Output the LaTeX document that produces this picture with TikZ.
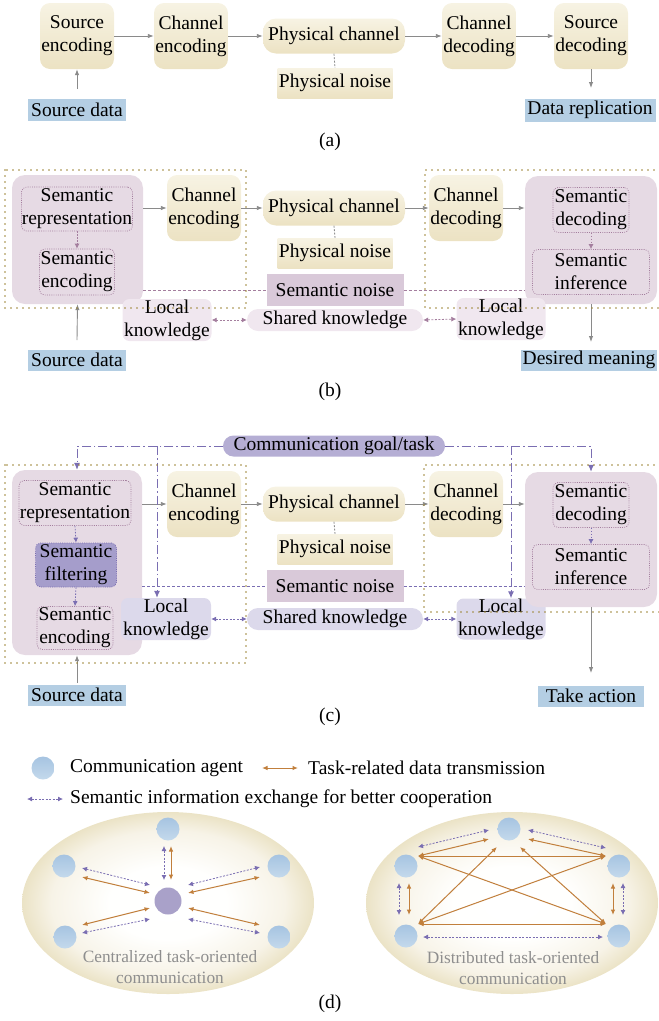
\documentclass[tikz,border=0pt]{standalone}
\usepackage{fontspec}
\setmainfont{Liberation Serif}
\usetikzlibrary{arrows.meta,calc,shapes.geometric}
\definecolor{creamT}{HTML}{F7F3E3}
\definecolor{creamB}{HTML}{ECE2C3}
\definecolor{lblue}{HTML}{B4CEE3}
\definecolor{semb}{HTML}{E6DAE4}
\definecolor{semnoise}{HTML}{D9C9D9}
\definecolor{knb}{HTML}{F0E7EF}
\definecolor{knc}{HTML}{DCD9EB}
\definecolor{goalc}{HTML}{B5AED4}
\definecolor{filt}{HTML}{A59DCB}
\definecolor{arrgray}{HTML}{8A8A8A}
\definecolor{mauve}{HTML}{A47E9E}
\definecolor{vio}{HTML}{7A6EB2}
\definecolor{olive}{HTML}{9C8434}
\definecolor{orng}{HTML}{C17F3C}
\definecolor{agentT}{HTML}{A6C4E1}
\definecolor{agentB}{HTML}{C4D9EC}
\definecolor{centerp}{HTML}{A9A1C9}
\definecolor{ellout}{HTML}{EBE3C6}
\definecolor{ellmidA}{HTML}{FFFFFE}
\definecolor{ellmidB}{HTML}{F7F3E7}
\definecolor{labgray}{HTML}{8E8E8E}
\pgfdeclareradialshading{ellshade}{\pgfpoint{0bp}{0bp}}{color(0bp)=(white); color(10bp)=(ellmidA); color(20bp)=(ellmidB); color(25bp)=(ellout); color(50bp)=(ellout)}
\tikzset{
  base/.style={font=\fontsize{19.5}{23}\selectfont, align=center, inner sep=0pt, text=black},
  sz/.style 2 args={minimum width=#1, minimum height=#2},
  cbox/.style={base, rounded corners=10pt, top color=creamT, bottom color=creamB, sz={74pt}{66pt}},
  pill/.style={base, rounded corners=13pt, top color=creamT, bottom color=creamB, sz={142pt}{35pt}},
  rbox/.style={base, top color=creamT, bottom color=creamB, sz={115pt}{30pt}},
  lbl/.style={base, fill=lblue},
  bigbox/.style={rounded corners=13pt, fill=semb, inner sep=0pt},
  inbox/.style={base, draw=mauve, dash pattern=on 0.9pt off 1.3pt, line width=0.7pt, rounded corners=5pt},
  snoise/.style={base, fill=semnoise, sz={137pt}{32pt}},
  knowb/.style={base, fill=knb, rounded corners=7pt},
  knowc/.style={base, fill=knc, rounded corners=7pt},
  frame/.style={draw=olive, line width=1.8pt, dash pattern=on 0pt off 6pt, line cap=round},
  garr/.style={draw=arrgray, line width=0.9pt, -{Latex[length=6pt,width=4.5pt]}},
  gdash/.style={draw=arrgray, line width=0.8pt, dash pattern=on 2pt off 1.5pt},
  marr/.style={draw=mauve, line width=0.8pt, dash pattern=on 1.5pt off 1.5pt, -{Latex[length=5pt,width=5pt]}},
  mdarr/.style={draw=mauve, line width=0.8pt, dash pattern=on 2pt off 1.5pt, {Latex[length=5pt,width=5pt]}-{Latex[length=5pt,width=5pt]}},
  varr/.style={draw=vio, line width=0.8pt, dash pattern=on 1.5pt off 1.5pt, -{Latex[length=5pt,width=5pt]}},
  vdarr/.style={draw=vio, line width=0.8pt, dash pattern=on 2pt off 1.5pt, {Latex[length=5pt,width=5pt]}-{Latex[length=5pt,width=5pt]}},
  mnoise/.style={draw=mauve, line width=0.8pt, dash pattern=on 3pt off 2pt},
  vnoise/.style={draw=vio, line width=0.8pt, dash pattern=on 3pt off 2pt},
  ddot/.style={draw=vio, line width=1pt, dash pattern=on 9pt off 3pt on 1.5pt off 3pt},
  ddarr/.style={ddot, -{Latex[length=7pt,width=6pt]}},
  oarr/.style={draw=orng, line width=1pt, {Latex[length=5.5pt,width=4.5pt]}-{Latex[length=5.5pt,width=4.5pt]}},
  agent/.style={circle, inner sep=0pt, minimum size=23pt, top color=agentT, bottom color=agentB},
  hub/.style={circle, inner sep=0pt, minimum size=27pt, fill=centerp},
  ell/.style={ellipse, inner sep=0pt, sz={292pt}{182pt}, shading=ellshade},
  glabel/.style={font=\fontsize{17.3}{21}\selectfont, align=center, text=labgray, inner sep=0pt},
  leg/.style={font=\fontsize{19.5}{23}\selectfont, inner sep=0pt, anchor=west},
  capt/.style={font=\fontsize{19.5}{23}\selectfont, inner sep=0pt}
}
\begin{document}
\begin{tikzpicture}[x=1pt,y=-1pt]
\useasboundingbox (0,0) rectangle (659,1021);

% ---------------- (a) ----------------
\node[cbox] (se) at (77,36) {Source\\encoding};
\node[cbox] (ce) at (191,36) {Channel\\encoding};
\node[pill] (pc) at (334,36) {Physical channel};
\node[rbox] (pn) at (335,83) {Physical noise};
\node[cbox] (cd) at (479,36) {Channel\\decoding};
\node[cbox] (sd) at (591,36) {Source\\decoding};
\node[lbl, sz={98pt}{22pt}] (srcA) at (77,110) {Source data};
\node[lbl, sz={131pt}{23pt}] (drA) at (590,110) {Data replication};
\coordinate (srcAtip) at (77,89);
\coordinate (drAtop) at (591,88);
\draw[garr] (srcAtip) -- (se.south);
\draw[garr] (se.east) -- (ce.west);
\draw[garr] (ce.east) -- (pc.west);
\draw[garr] (pc.east) -- (cd.west);
\draw[garr] (cd.east) -- (sd.west);
\draw[garr] (sd.south) -- (drAtop);
\draw[gdash] (pc.south) -- (pn.north);
\node[capt] (capa) at (330,142) {(a)};

% ---------------- (b) ----------------
\node[bigbox, sz={131pt}{129pt}] (txb) at (77.5,239.5) {};
\node[inbox, sz={111pt}{44pt}] (srb) at (77,209) {Semantic\\representation};
\node[inbox, sz={75pt}{46pt}] (seb) at (77,272) {Semantic\\encoding};
\draw[marr] (srb.south) -- (seb.north);
\node[cbox] (ceb) at (204,208) {Channel\\encoding};
\node[pill] (pcb) at (334,208) {Physical channel};
\node[rbox] (pnb) at (335,253) {Physical noise};
\node[snoise] (snb) at (335,290) {Semantic noise};
\node[knowb, rounded corners=11pt, sz={176pt}{22pt}] (shb) at (335,320) {Shared knowledge};
\node[cbox] (cdb) at (466,208) {Channel\\decoding};
\node[bigbox, sz={132pt}{128pt}] (rxb) at (591,240) {};
\node[inbox, sz={76pt}{45pt}] (sdb) at (591,210) {Semantic\\decoding};
\node[inbox, sz={117pt}{45pt}] (sib) at (591,272) {Semantic\\inference};
\draw[marr] (sdb.south) -- (sib.north);
\node[knowb, sz={89pt}{42pt}] (lkb1) at (167,320) {Local\\knowledge};
\node[knowb, sz={89pt}{42pt}] (lkb2) at (501,319) {Local\\knowledge};
\node[lbl, sz={98pt}{21pt}] (srcB) at (77,360) {Source data};
\node[lbl, sz={136pt}{21pt}] (dmB) at (589,360) {Desired meaning};
\coordinate (srcBtip) at (77,340);
\coordinate (dmBtop) at (591,342);
\draw[garr] (srcBtip) -- (txb.south);
\draw[garr] (rxb.south) -- (dmBtop);
\draw[garr] (ceb.west -| txb.east) -- (ceb.west);
\draw[garr] (ceb.east) -- (pcb.west);
\draw[garr] (pcb.east) -- (cdb.west);
\draw[garr] (cdb.east) -- (cdb.east -| rxb.west);
\draw[gdash] (pcb.south) -- (pnb.north);
\draw[mnoise] (snb.west -| txb.east) -- (snb.west);
\draw[mnoise] (snb.east) -- (snb.east -| rxb.west);
\draw[mdarr] (lkb1.east) -- (shb.west);
\draw[mdarr] (shb.east) -- (lkb2.west);
\draw[frame] (5,170) rectangle (246,308);
\draw[frame] (660,170) -- (425,170) -- (425,308) -- (660,308);
\node[capt] (capb) at (330,392) {(b)};

% ---------------- (c) ----------------
\node[base, fill=goalc, rounded corners=10.5pt, sz={222pt}{21pt}] (goal) at (334,446) {Communication goal/task};
\node[bigbox, sz={130pt}{185pt}] (txc) at (77,562.5) {};
\node[inbox, sz={112pt}{45pt}] (src) at (75,503) {Semantic\\representation};
\node[inbox, fill=filt, draw=vio, sz={81pt}{44pt}] (sfc) at (76,565) {Semantic\\filtering};
\node[inbox, sz={76pt}{43pt}] (sec) at (75,628) {Semantic\\encoding};
\draw[varr] (src.south) -- (sfc.north);
\draw[varr] (sfc.south) -- (sec.north);
\node[cbox] (cec) at (204,504) {Channel\\encoding};
\node[pill] (pcc) at (334,504) {Physical channel};
\node[rbox] (pnc) at (335,549) {Physical noise};
\node[snoise] (snc) at (335,586) {Semantic noise};
\node[knowc, rounded corners=11pt, sz={176pt}{22pt}] (shc) at (335,619) {Shared knowledge};
\node[cbox] (cdc) at (466,504) {Channel\\decoding};
\node[knowc, sz={89pt}{41pt}] (lkc2) at (501,619) {Local\\knowledge};
\node[bigbox, sz={132pt}{135pt}] (rxc) at (591,539.5) {};
\node[inbox, sz={76pt}{45pt}] (sdc) at (591,505) {Semantic\\decoding};
\node[inbox, sz={117pt}{45pt}] (sic) at (591,567) {Semantic\\inference};
\draw[varr] (sdc.south) -- (sic.north);
\node[knowc, sz={90pt}{42pt}] (lkc1) at (166,619) {Local\\knowledge};
\node[lbl, sz={98pt}{21pt}] (srcC) at (77,695) {Source data};
\node[lbl, sz={106pt}{21pt}] (taC) at (591,696) {Take action};
\coordinate (srcCtip) at (77,683);
\coordinate (taCtop) at (591,673);
\draw[garr] (srcCtip) -- (txc.south);
\draw[garr] (rxc.south) -- (taCtop);
\draw[garr] (cec.west -| txc.east) -- (cec.west);
\draw[garr] (cec.east) -- (pcc.west);
\draw[garr] (pcc.east) -- (cdc.west);
\draw[garr] (cdc.east) -- (cdc.east -| rxc.west);
\draw[gdash] (pcc.south) -- (pnc.north);
\draw[vnoise] (snc.west -| txc.east) -- (snc.west);
\draw[vnoise] (snc.east) -- (snc.east -| rxc.west);
\draw[vdarr] (lkc1.east) -- (shc.west);
\draw[vdarr] (shc.east) -- (lkc2.west);
\coordinate (gl) at (157,446);
\coordinate (gr) at (511,446);
\draw[ddarr] (goal.west) -| (txc.north);
\draw[ddarr] (gl) -- (gl |- lkc1.north);
\draw[ddarr] (goal.east) -| (rxc.north);
\draw[ddarr] (gr) -- (gr |- lkc2.north);
\draw[frame] (5,465) rectangle (246,663);
\draw[frame] (660,465) -- (424,465) -- (424,612) -- (660,612);
\node[capt] (capc) at (330,717) {(c)};

% ---------------- (d) ----------------
\node[agent] (legA) at (43,768) {};
\node[leg] (legAt) at (70,768) {Communication agent};
\coordinate (legO1) at (262,768);
\coordinate (legO2) at (298,768);
\draw[oarr] (legO1) -- (legO2);
\node[leg] (legOt) at (308,768) {Task-related data transmission};
\coordinate (legV1) at (27,799);
\coordinate (legV2) at (63,799);
\draw[vdarr] (legV1) -- (legV2);
\node[leg] (legVt) at (70,799) {Semantic information exchange for better cooperation};

% centralized
\node[ell] (E1) at (168,903) {};
\node[agent] (T) at (168,829) {};
\node[agent] (LU) at (64,866) {};
\node[agent] (RU) at (279,866) {};
\node[agent] (LL) at (65,937) {};
\node[agent] (RL) at (279,937) {};
\node[hub] (C) at (168,901) {};
\draw[vdarr] ([shift={(-4,17)}]T.center) -- ([shift={(-4,-21)}]C.center);
\draw[oarr] ([shift={(3,17)}]T.center) -- ([shift={(3,-21)}]C.center);
\draw[vdarr] ([shift={(18,2)}]LU.center) -- ([shift={(-18,-16)}]C.center);
\draw[oarr] ([shift={(18,11)}]LU.center) -- ([shift={(-18,-8)}]C.center);
\draw[vdarr] ([shift={(20,-16)}]C.center) -- ([shift={(-19,1)}]RU.center);
\draw[oarr] ([shift={(20,-8)}]C.center) -- ([shift={(-19,11)}]RU.center);
\draw[oarr] ([shift={(17,-12)}]LL.center) -- ([shift={(-18,7)}]C.center);
\draw[vdarr] ([shift={(17,-4)}]LL.center) -- ([shift={(-18,18)}]C.center);
\draw[oarr] ([shift={(20,7)}]C.center) -- ([shift={(-19,-12)}]RL.center);
\draw[vdarr] ([shift={(20,18)}]C.center) -- ([shift={(-19,-4)}]RL.center);
\node[glabel] (g1) at (170,967) {Centralized task-oriented\\communication};

% distributed
\node[ell] (E2) at (512,903) {};
\node[agent] (T2) at (509,829) {};
\node[agent] (LU2) at (406,866) {};
\node[agent] (RU2) at (619,866) {};
\node[agent] (LL2) at (406,936) {};
\node[agent] (RL2) at (619,936) {};
\coordinate (LUa) at ([shift={(12,-10)}]LU2.center);
\coordinate (RUa) at ([shift={(-13,-10)}]RU2.center);
\coordinate (LLa) at ([shift={(12,-12)}]LL2.center);
\coordinate (RLa) at ([shift={(-13,-12)}]RL2.center);
\coordinate (Ta) at ([shift={(-12,18)}]T2.center);
\coordinate (Tb) at ([shift={(11,18)}]T2.center);
\draw[vdarr] ([shift={(12,-19)}]LU2.center) -- ([shift={(-20,1)}]T2.center);
\draw[oarr] (LUa) -- ([shift={(-20,10)}]T2.center);
\draw[vdarr] ([shift={(19,1)}]T2.center) -- ([shift={(-13,-18)}]RU2.center);
\draw[oarr] ([shift={(19,10)}]T2.center) -- (RUa);
\draw[oarr] (LUa) -- (RUa);
\draw[oarr] (LUa) -- (RLa);
\draw[oarr] (RUa) -- (LLa);
\draw[oarr] (LLa) -- (RLa);
\draw[oarr] (Ta) -- (LLa);
\draw[oarr] (Tb) -- (RLa);
\draw[oarr] ([shift={(3,17)}]LU2.center) -- ([shift={(3,-21)}]LL2.center);
\draw[vdarr] ([shift={(-7,17)}]LU2.center) -- ([shift={(-7,-21)}]LL2.center);
\draw[oarr] ([shift={(-6,17)}]RU2.center) -- ([shift={(-6,-21)}]RL2.center);
\draw[vdarr] ([shift={(4,17)}]RU2.center) -- ([shift={(4,-21)}]RL2.center);
\draw[vdarr] ([shift={(17,1)}]LL2.center) -- ([shift={(-16,1)}]RL2.center);
\node[glabel] (g2) at (513,968) {Distributed task-oriented\\communication};
\node[capt] (capd) at (330,1004) {(d)};
\end{tikzpicture}
\end{document}
